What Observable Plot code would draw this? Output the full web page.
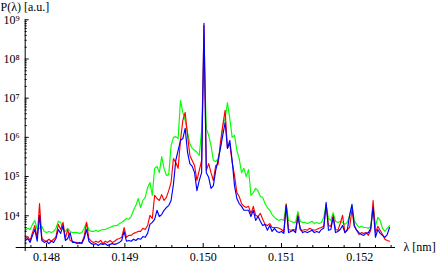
<!DOCTYPE html>
<html><head><meta charset="utf-8">
<script src="https://cdn.jsdelivr.net/npm/d3@7"></script>
<script src="https://cdn.jsdelivr.net/npm/@observablehq/plot@0.6"></script>
<style>
body{margin:0;background:#fff}
#chart svg text{font-family:"Liberation Serif","DejaVu Serif",serif !important;font-size:12px !important;}
</style>
</head><body><div id="chart"></div>
<script>
// wavelength grid (nm)
const lambdaStart = 0.14773, lambdaStep = 0.00003;
// log10 of P(λ), one value per grid point
const greenLog10 = [3.63,3.68,3.65,3.78,3.88,3.65,3.68,3.73,3.60,3.57,
 3.60,3.57,3.60,3.68,3.86,3.83,3.65,3.60,3.68,3.60,
 3.57,3.57,3.57,3.55,3.57,3.68,3.83,3.63,3.60,3.60,
 3.63,3.60,3.63,3.65,3.65,3.68,3.70,3.73,3.75,3.75,
 3.80,3.83,3.88,3.93,3.91,3.98,4.14,4.26,4.44,4.21,
 4.39,4.47,4.72,4.85,4.52,5.21,5.26,5.10,5.51,5.21,
 5.03,5.05,5.79,6.00,6.02,5.97,6.94,6.64,6.43,6.13,
 5.84,5.72,5.67,5.62,5.54,6.18,8.22,6.23,6.05,5.79,
 5.41,5.38,5.46,5.72,6.30,6.48,6.89,6.48,6.00,6.05,
 5.67,5.46,5.10,5.21,5.00,5.18,4.52,4.59,4.70,4.64,
 4.49,4.47,4.31,4.21,4.14,4.03,3.96,3.91,3.88,3.91,
 3.88,4.31,3.88,3.86,3.83,3.83,4.11,3.86,3.83,3.83,
 3.80,3.83,3.86,3.80,3.83,3.80,3.83,3.96,4.29,3.93,
 3.88,4.08,3.86,3.83,3.86,3.83,3.78,3.83,4.01,4.26,
 3.88,3.78,3.70,3.73,3.70,3.70,3.68,3.73,4.24,3.73,
 3.96,3.88,3.68,3.60,3.68,3.75];
const redLog10 = [3.42,3.47,3.37,3.57,3.75,3.42,4.31,3.42,3.37,3.35,
 3.40,3.35,3.40,3.47,3.78,3.65,3.83,3.42,3.65,3.37,
 3.35,3.32,3.32,3.29,3.32,3.47,3.83,3.42,3.35,3.32,
 3.35,3.32,3.37,3.29,3.35,3.32,3.37,3.32,3.35,3.40,
 3.42,3.45,3.70,3.45,3.50,3.50,3.55,3.57,3.60,3.60,
 3.68,3.65,3.75,4.01,3.93,4.52,4.44,4.39,4.54,4.39,
 4.47,4.64,4.85,5.46,5.36,5.21,5.92,6.43,6.64,6.05,
 5.54,5.41,5.28,4.90,5.16,5.41,8.85,5.16,5.33,5.10,
 4.90,5.28,5.31,5.87,6.30,6.69,5.72,5.84,5.36,5.03,
 4.59,4.49,4.31,4.24,4.21,4.24,4.06,4.24,4.01,3.98,
 4.06,3.91,3.78,3.75,3.80,3.70,3.70,3.70,3.68,3.65,
 3.60,4.29,3.65,3.63,3.65,3.63,4.03,3.63,3.63,3.65,
 3.63,3.68,3.65,3.63,3.65,3.68,3.70,3.73,4.26,3.75,
 3.73,4.01,3.65,3.63,3.80,4.01,3.57,3.65,3.70,4.16,
 3.73,3.63,3.52,3.57,3.55,3.57,3.50,3.63,4.39,3.57,
 3.73,3.63,3.52,3.40,3.37,3.35];
const blueLog10 = [3.37,3.42,3.32,3.50,3.65,3.35,4.01,3.37,3.32,3.35,
 3.29,3.35,3.32,3.42,3.65,3.55,3.75,3.37,3.42,3.57,
 3.32,3.32,3.29,3.32,3.29,3.42,3.65,3.35,3.29,3.27,
 3.29,3.24,3.29,3.27,3.29,3.24,3.27,3.29,3.27,3.29,
 3.32,3.37,3.60,3.35,3.37,3.35,3.40,3.37,3.42,3.40,
 3.47,3.45,3.55,3.78,3.83,3.91,4.14,3.98,4.03,4.14,
 4.21,4.26,4.39,4.80,5.41,5.67,5.92,5.97,6.23,5.62,
 5.33,5.26,5.10,4.64,4.90,5.10,8.91,5.10,4.98,4.70,
 4.77,5.16,5.41,5.72,6.05,6.38,5.72,5.92,5.41,4.77,
 4.44,4.31,4.24,4.14,4.14,4.14,3.98,4.14,3.88,3.98,
 3.86,3.75,3.78,3.63,3.75,3.60,3.68,3.60,3.57,3.60,
 3.55,4.26,3.57,3.60,3.63,3.57,3.98,3.68,3.57,3.60,
 3.57,3.60,3.63,3.57,3.60,3.57,3.65,3.68,4.34,3.63,
 3.65,3.96,3.57,3.60,3.65,3.75,3.57,3.63,4.01,4.29,
 3.75,3.63,3.57,3.52,3.50,3.55,3.57,3.68,4.21,3.45,
 3.65,3.55,3.50,3.45,3.52,3.70];
const seriesColors = ["#00ff00", "#ff0000", "#0000ff"];
const xMajorTicks = [0.148, 0.149, 0.150, 0.151, 0.152];
const yMajorTicks = [1e4, 1e5, 1e6, 1e7, 1e8, 1e9];
const yAxisTitle = "P(λ) [a.u.]";
const xAxisTitle = "λ [nm]";
const xDomain = [0.147727, 0.152456];
const yDomain = [1549, 1e9];

const W = 437, H = 264, mL = 24.7, mR = 42, mT = 19.3, mB = 17;
const innerW = W - mL - mR, innerH = H - mT - mB;

const toRows = arr => arr.map((v, i) => ({lambda: lambdaStart + lambdaStep * i, P: Math.pow(10, v)}));
const seriesRows = [greenLog10, redLog10, blueLog10].map(toRows);

const xMinorTicks = d3.range(1478, 1525, 2).map(k => k / 10000)
  .filter(t => !xMajorTicks.some(m => Math.abs(m - t) < 1e-9));
const yMinorTicks = [];
for (let e = 3; e <= 8; e++) for (let m = 2; m <= 9; m++) {
  const v = m * Math.pow(10, e);
  if (v >= yDomain[0] && v <= yDomain[1]) yMinorTicks.push(v);
}
const SUP = "⁰¹²³⁴⁵⁶⁷⁸⁹";
const supFmt = v => "10" + String(Math.round(Math.log10(v))).split("").map(c => SUP[+c]).join("");

const font = {fontFamily: "Liberation Serif", fontSize: 12, fill: "black"};

const chart = Plot.plot({
  width: W, height: H,
  marginLeft: mL, marginRight: mR, marginTop: mT, marginBottom: mB,
  x: {domain: xDomain, axis: null},
  y: {type: "log", domain: yDomain, axis: null},
  style: {background: "white", fontFamily: "Liberation Serif", fontSize: "12px"},
  marks: [
    ...seriesRows.map((rows, s) => Plot.line(rows, {x: "lambda", y: "P", stroke: seriesColors[s], strokeWidth: 1.15})),
    Plot.ruleY([yDomain[0]], {insetLeft: -9, stroke: "black"}),
    Plot.ruleX([xDomain[0]], {insetBottom: -4, stroke: "black"}),
    Plot.tickX(xMajorTicks, {x: d => d, insetTop: innerH - 4, stroke: "black"}),
    Plot.tickX(xMinorTicks, {x: d => d, insetTop: innerH - 2, stroke: "black"}),
    Plot.tickY(yMajorTicks, {y: d => d, insetRight: innerW - 4, stroke: "black"}),
    Plot.tickY(yMinorTicks, {y: d => d, insetRight: innerW - 2, stroke: "black"}),
    Plot.text(xMajorTicks, {x: d => d, text: d => d.toFixed(3), frameAnchor: "bottom", lineAnchor: "top", dy: 5, ...font}),
    Plot.text(yMajorTicks, {y: d => d, text: supFmt, frameAnchor: "left", textAnchor: "end", lineAnchor: "middle", dx: -5.5, ...font}),
    Plot.text([yAxisTitle], {text: d => d, frameAnchor: "top-left", textAnchor: "start", lineAnchor: "middle", dx: -mL, dy: -12.6, ...font}),
    Plot.text([xAxisTitle], {text: d => d, frameAnchor: "bottom-right", textAnchor: "start", lineAnchor: "middle", dx: 8, dy: -0.8, ...font})
  ]
});
document.getElementById("chart").appendChild(chart);
</script>
</body></html>
